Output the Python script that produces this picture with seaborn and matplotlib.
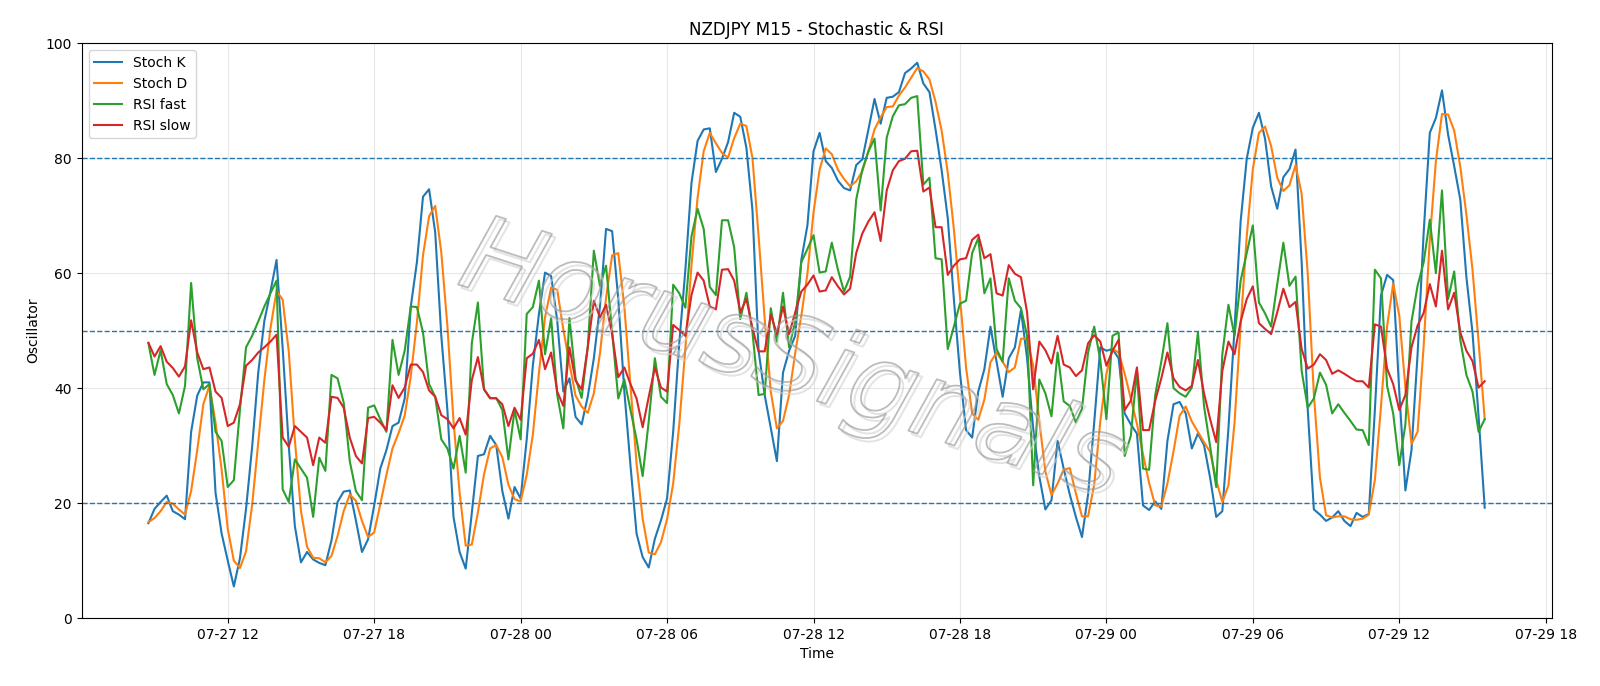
import numpy as np
import pandas as pd
import matplotlib
matplotlib.use("Agg")
import matplotlib.pyplot as plt
import matplotlib.dates as mdates
import matplotlib.patheffects as pe
import seaborn as sns

start_time = "2022-07-27 08:45"
n_points = 220

stoch_k = [16.5, 19, 20.2, 21.3, 18.6, 18, 17.2, 32.4, 38.7, 41, 41, 21.8, 14.7, 10, 5.5, 10.4, 19, 29.8, 42.7, 51.7,
           56.8, 62.3, 47, 30, 16, 9.7, 11.5, 10.2, 9.6, 9.2, 13.5, 20.2, 22, 22.2, 17, 11.5, 13.7, 19.6, 26, 29.2,
           33.4, 34, 38.2, 54.2, 61.9, 73.3, 74.6, 67.1, 49.1, 36.2, 17.6, 11.5, 8.6, 18.3, 28.2, 28.5, 31.7, 30.1, 22.1, 17.3,
           22.8, 20.8, 31.1, 43.9, 52.9, 60.1, 59.5, 51.7, 39.4, 41.7, 35, 33.7, 38.5, 45.2, 54.2, 67.7, 67.3, 55.5, 39.4, 26.6,
           14.7, 10.6, 8.8, 13.8, 17, 20.8, 32.4, 47.8, 60.6, 75.7, 83, 85, 85.2, 77.6, 79.9, 82.8, 87.9, 87.2, 81.8, 70.9,
           46.5, 38.8, 33, 27.3, 42.7, 46.5, 49.1, 62.3, 68.3, 81.2, 84.4, 79.5, 78.3, 76.1, 74.8, 74.4, 78.8, 79.8, 85, 90.3,
           86, 90.5, 90.7, 91.5, 94.8, 95.6, 96.6, 93, 91.5, 85, 77.9, 69.6, 55.5, 42.7, 32.7, 31.4, 39.4, 43.3, 50.7, 44.6,
           38.5, 45.2, 47.1, 53.6, 45.2, 33, 24.7, 18.9, 20.5, 30.8, 26, 21.5, 17.6, 14.1, 21.5, 34, 47.1, 46.5, 46.8, 45.2,
           35.6, 33.7, 32.1, 19.6, 18.8, 20.3, 19, 30.8, 37.2, 37.6, 35.6, 29.5, 32.1, 30.1, 24.4, 17.6, 18.6, 33, 50.4, 69,
           79.9, 85.3, 87.9, 83.4, 75.1, 71.2, 76.7, 78.1, 81.5, 61.9, 36.2, 18.9, 18, 16.9, 17.5, 18.6, 16.9, 16, 18.3, 17.6,
           18.1, 36.2, 56.1, 59.7, 58.8, 39.4, 22.2, 29.2, 45.9, 67.1, 84.4, 87, 91.8, 84.1, 78.6, 72.8, 59.3, 49.7, 35, 19.2]

stoch_d = [16.7, 17.4, 18.6, 20.2, 19.9, 18.9, 18, 22.1, 29.2, 37.2, 40.4, 34, 25.8, 15.5, 10, 8.7, 11.6, 19.7, 30.5, 41.4,
           50.4, 56.9, 55.4, 46.4, 31, 18.6, 12.4, 10.5, 10.4, 9.7, 10.8, 14.3, 18.6, 21.5, 20.4, 16.9, 14.1, 14.9, 19.8, 24.9,
           29.5, 32.2, 35.2, 42.1, 51.4, 63.1, 69.9, 71.7, 63.6, 50.8, 34.3, 21.8, 12.6, 12.8, 18.4, 25, 29.5, 30.1, 28, 23.2,
           20.7, 20.3, 24.9, 31.9, 42.6, 52.3, 57.5, 57.1, 50.2, 44.3, 38.7, 36.8, 35.7, 39.1, 46, 55.7, 63.1, 63.5, 54.1, 40.5,
           26.9, 17.3, 11.4, 11.1, 13.2, 17.2, 23.4, 33.7, 46.9, 61.4, 73.1, 81.2, 84.4, 82.6, 80.9, 80.1, 83.5, 86, 85.6, 80,
           66.4, 52, 39.4, 33, 34.3, 38.8, 46.1, 52.6, 59.9, 70.6, 78, 81.7, 80.7, 78, 76.4, 75.1, 76, 77.7, 81.2, 85,
           87.1, 88.9, 89, 90.9, 92.3, 94, 95.7, 95.1, 93.7, 89.8, 84.8, 77.5, 67.7, 55.9, 43.6, 35.6, 34.5, 38, 44.5, 46.2,
           44.6, 42.8, 43.6, 48.6, 48.6, 43.9, 34.3, 25.5, 21.4, 23.4, 25.8, 26.1, 21.7, 17.7, 17.7, 23.2, 34.2, 42.5, 46.8, 46.2,
           42.5, 38.2, 33.8, 28.5, 23.5, 19.6, 19.4, 23.4, 29, 35.2, 36.8, 34.2, 32.4, 30.6, 28.9, 24, 20.2, 23.1, 34, 50.8,
           66.4, 78.1, 84.4, 85.5, 82.1, 76.6, 74.3, 75.3, 78.8, 73.8, 59.9, 39, 24.4, 17.9, 17.5, 17.7, 17.7, 17.2, 17.1, 17.3,
           18, 24, 36.8, 50.7, 58.2, 52.6, 40.1, 30.3, 32.4, 47.4, 65.8, 79.5, 87.7, 87.6, 84.8, 78.5, 70.2, 60.6, 48, 34.6]

rsi_fast = [47.8, 42.3, 46.6, 40.7, 38.8, 35.6, 40.4, 58.3, 45.2, 39.8, 40.7, 32.4, 30.8, 22.8, 24, 36.2, 47.1, 49.1, 51.6, 54.2,
            56.5, 58.7, 22.4, 20.2, 27.6, 26, 24.4, 17.6, 27.9, 25.6, 42.3, 41.7, 37.5, 27.3, 22.1, 20.5, 36.6, 37, 34.6, 32.4,
            48.4, 42.3, 46.5, 54.2, 54.1, 49.7, 40.7, 38.5, 31.1, 29.5, 26, 31.7, 25.3, 47.8, 54.9, 39.8, 38.2, 38.3, 36.2, 27.6,
            36.2, 31.1, 52.9, 54.1, 58.7, 45.9, 52.2, 38.8, 33, 52.2, 41.7, 38.3, 47.1, 63.9, 57.8, 61.3, 49.7, 38.2, 41.5, 36.2,
            31.1, 24.7, 34.3, 45.2, 38.5, 37.4, 58, 56.5, 54, 66.4, 71.2, 67.7, 57.6, 56.2, 69.2, 69.2, 64.5, 52, 56.6, 49.7,
            38.8, 39, 53.9, 48.1, 56.6, 47.1, 51.6, 61.9, 64.2, 66.6, 60.1, 60.3, 65.3, 60.6, 56.8, 59.4, 72.8, 78, 81.2, 83.4,
            70.9, 83.6, 87.3, 89.2, 89.4, 90.5, 90.8, 75.4, 76.6, 62.6, 62.4, 46.8, 50.7, 54.7, 55.2, 63.5, 66.1, 56.5, 59.1, 46.8,
            44.6, 59.1, 55.2, 53.9, 49.1, 23.1, 41.5, 39.1, 35.1, 46.2, 37.7, 36.9, 34, 36.4, 46.2, 50.7, 44.9, 34.6, 49.1, 49.7,
            28.2, 31.7, 43, 26, 25.8, 38.8, 44.6, 51.3, 40, 39.1, 38.5, 40.1, 49.7, 36.9, 29.8, 22.8, 45.9, 54.5, 49.1, 58.7,
            63.5, 68.3, 54.9, 53, 50.7, 58.1, 65.3, 57.8, 59.4, 43, 36.6, 38.2, 42.7, 40.6, 35.6, 37.2, 35.7, 34.3, 32.8, 32.7,
            30.1, 60.6, 59.1, 40.4, 35.6, 26.6, 33.7, 51.6, 57.8, 61.9, 69.3, 60, 74.4, 55.5, 60.3, 48.4, 42.3, 39.4, 32.4, 34.6]

rsi_slow = [47.9, 45.5, 47.3, 44.6, 43.5, 42, 43.8, 51.8, 46.2, 43.3, 43.6, 39.4, 38.3, 33.4, 34, 37.2, 43.9, 44.9, 46.2, 47.1,
            48.1, 49.3, 31.4, 29.8, 33.4, 32.4, 31.4, 26.6, 31.4, 30.5, 38.5, 38.3, 36.6, 31.4, 28.2, 26.9, 34.8, 35, 34, 32.7,
            40.5, 38.3, 40.1, 44.1, 44.1, 42.8, 39.6, 38.5, 35.3, 34.6, 33, 34.8, 31.9, 41.4, 45.4, 39.8, 38.3, 38.2, 37.2, 33.4,
            36.6, 34.5, 45.2, 46, 48.4, 43.3, 46.2, 39.4, 36.9, 47.1, 41.3, 39.8, 47.1, 55.2, 52.3, 54.5, 49.4, 41.9, 43.6, 40.7,
            38.2, 33.2, 38.5, 43.6, 40.1, 39.4, 51, 50.1, 49.1, 56.2, 60.1, 58.7, 54.2, 53.7, 60.6, 60.7, 58.7, 53.2, 55.5, 50.4,
            46.4, 46.4, 52.8, 49.4, 54.2, 49.4, 53.2, 56.8, 58, 59.6, 56.8, 57, 59.3, 57.7, 56.3, 57.3, 63.5, 66.9, 69, 70.6,
            65.6, 74.4, 77.9, 79.5, 79.9, 81.2, 81.3, 74.2, 74.9, 68, 68, 59.7, 61.3, 62.4, 62.6, 65.8, 66.7, 62.6, 63.3, 56.5,
            56.1, 61.4, 59.9, 59.3, 53.2, 39.8, 48.1, 46.6, 44.3, 49.1, 44.1, 43.6, 42.1, 43.1, 47.8, 49.2, 48.1, 43.9, 46.5, 48.4,
            36.2, 37.8, 43.6, 32.7, 32.7, 37.8, 41.7, 46.2, 41.7, 40.2, 39.6, 40.4, 44.9, 39.1, 34.6, 30.6, 43, 48.1, 45.9, 51.6,
            55.5, 57.7, 51.3, 50.3, 49.4, 53.2, 57.3, 54.1, 55, 46.8, 43.4, 44.1, 45.9, 44.9, 42.5, 43.1, 42.5, 41.8, 41.2, 41.2,
            40.1, 51.1, 50.7, 43.4, 40.7, 36.2, 38.8, 47.1, 50.9, 53.1, 58.1, 54.2, 63.9, 53.7, 56.6, 49.7, 46.5, 44.7, 40.1, 41.2]

series_names = ["Stoch K", "Stoch D", "RSI fast", "RSI slow"]
levels = [80, 50, 20]

times = pd.date_range(start_time, periods=n_points, freq="15min")
df = pd.DataFrame({"Time": times, "Stoch K": stoch_k, "Stoch D": stoch_d,
                   "RSI fast": rsi_fast, "RSI slow": rsi_slow})
long = df.melt(id_vars="Time", var_name="series", value_name="value")

fig = plt.figure(figsize=(16, 6.86), dpi=100)
ax = fig.add_axes([0.051, 0.099, 0.9187, 0.838])

palette = ["#1f77b4", "#ff7f0e", "#2ca02c", "#d62728"]
sns.lineplot(data=long, x="Time", y="value", hue="series", hue_order=series_names,
             palette=palette, linewidth=1.5, ax=ax)

for lv in levels:
    ax.axhline(lv, color="#1f77b4", linestyle="--", linewidth=1.0)

ax.set_ylim(0, 100)
ax.grid(True, alpha=0.3)
ax.xaxis.set_major_locator(mdates.HourLocator(byhour=[0, 6, 12, 18]))
ax.xaxis.set_major_formatter(mdates.DateFormatter("%m-%d %H"))
ax.set_title("NZDJPY M15 - Stochastic & RSI", fontsize=12)
ax.set_xlabel("Time")
ax.set_ylabel("Oscillator")
ax.legend(loc="upper left", fontsize=10)

ax.text(0.483, 0.445, "HorusSignals", transform=ax.transAxes, fontsize=76,
        fontstyle="italic", rotation=-18, ha="center", va="center",
        color=(1, 1, 1, 0.0), zorder=5,
        path_effects=[pe.Stroke(offset=(2.5, -2.5), linewidth=1.4, foreground=(0.82, 0.82, 0.82, 0.6)),
                      pe.Stroke(linewidth=1.3, foreground=(0.6, 0.6, 0.6, 0.65)),
                      pe.Normal()])

fig.savefig("out.png", dpi=100)
